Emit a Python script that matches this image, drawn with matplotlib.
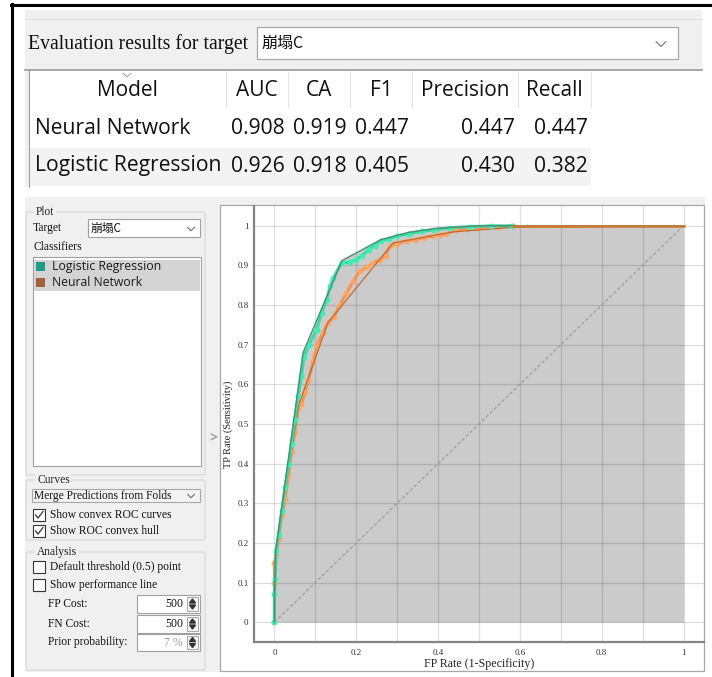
import numpy as np
import matplotlib.pyplot as plt
from matplotlib.patches import Rectangle, FancyBboxPatch

W, H = 712, 677

# evaluation results
target = "崩塌C"
columns = ["Model", "AUC", "CA", "F1", "Precision", "Recall"]
models = ["Neural Network", "Logistic Regression"]
auc = [0.908, 0.926]
ca = [0.919, 0.918]
f1 = [0.447, 0.405]
precision = [0.447, 0.430]
recall = [0.447, 0.382]

classifiers = ["Logistic Regression", "Neural Network"]
classifier_colors = ["#1d9c8c", "#a3603a"]

# ROC curves (FP rate, TP rate)
lr_fpr = [0.0, 0.0, 0.002, 0.004, 0.010, 0.018, 0.026, 0.035, 0.042, 0.050,
          0.058, 0.066, 0.072, 0.085, 0.103, 0.115, 0.128, 0.136, 0.144, 0.164,
          0.185, 0.200, 0.215, 0.230, 0.245, 0.260, 0.280, 0.300, 0.330, 0.360,
          0.390, 0.430, 0.480, 0.530, 0.580]
lr_tpr = [0.0, 0.07, 0.11, 0.18, 0.22, 0.28, 0.34, 0.40, 0.45, 0.51,
          0.57, 0.62, 0.67, 0.70, 0.738, 0.78, 0.814, 0.848, 0.869, 0.907,
          0.908, 0.915, 0.925, 0.940, 0.950, 0.962, 0.967, 0.975, 0.980, 0.986,
          0.990, 0.995, 0.998, 1.0, 1.0]
lr_hull_fpr = [0.0, 0.0, 0.003, 0.070, 0.165, 0.260, 0.330, 0.400, 0.480, 0.530, 1.0]
lr_hull_tpr = [0.0, 0.07, 0.18, 0.680, 0.912, 0.965, 0.984, 0.994, 0.999, 1.0, 1.0]

nn_fpr = [0.0, 0.0, 0.0, 0.004, 0.010, 0.018, 0.026, 0.034, 0.042, 0.050,
          0.058, 0.066, 0.075, 0.083, 0.095, 0.105, 0.118, 0.130, 0.145, 0.160,
          0.176, 0.192, 0.209, 0.225, 0.241, 0.258, 0.272, 0.282, 0.300, 0.323,
          0.345, 0.365, 0.387, 0.405, 0.420, 0.444, 0.470, 0.493, 0.520, 0.550,
          0.582]
nn_tpr = [0.0, 0.10, 0.15, 0.17, 0.21, 0.27, 0.31, 0.37, 0.43, 0.48,
          0.54, 0.55, 0.58, 0.61, 0.66, 0.70, 0.73, 0.755, 0.77, 0.80,
          0.83, 0.86, 0.886, 0.895, 0.907, 0.915, 0.925, 0.949, 0.955, 0.962,
          0.965, 0.970, 0.975, 0.978, 0.980, 0.990, 0.992, 0.995, 0.996, 0.997,
          1.0]
nn_hull_fpr = [0.0, 0.0, 0.018, 0.060, 0.131, 0.290, 0.440, 0.582, 1.0]
nn_hull_tpr = [0.0, 0.15, 0.280, 0.550, 0.756, 0.957, 0.985, 0.996, 1.0]

SERIF = "Liberation Serif"
SANS = "Open Sans"
CJK = ["Noto Sans CJK TC", "DejaVu Sans"]

fig = plt.figure(figsize=(W / 100, H / 100), dpi=100)
ui = fig.add_axes([0, 0, 1, 1])
ui.set_xlim(0, W)
ui.set_ylim(H, 0)
ui.axis("off")


def box(x0, y0, x1, y1, fc="white", ec="#a0a0a0", lw=0.8, z=1):
    ui.add_patch(Rectangle((x0, y0), x1 - x0, y1 - y0, facecolor=fc,
                           edgecolor=ec, linewidth=lw, zorder=z))


def group(x0, y0, x1, y1, title, tx):
    ui.add_patch(FancyBboxPatch((x0, y0), x1 - x0, y1 - y0,
                                boxstyle="round,pad=0,rounding_size=2",
                                facecolor="none", edgecolor="#d6d6d6",
                                linewidth=0.8, zorder=2))
    ui.text(tx, y0, title, fontsize=8.3, family=SERIF, color="#222222",
            va="center", ha="left", zorder=4,
            bbox=dict(boxstyle="square,pad=0.15", fc="#f0f0f0", ec="none"))


def chevron(x, y, w, h, color="#707070", lw=0.8):
    ui.plot([x - w / 2, x, x + w / 2], [y - h / 2, y + h / 2, y - h / 2],
            color=color, lw=lw, zorder=5, solid_capstyle="round")


def checkbox(x, y, checked):
    box(x, y - 6, x + 12, y + 6, fc="white", ec="#333333", lw=0.8, z=3)
    if checked:
        ui.plot([x + 2.5, x + 5, x + 10], [y, y + 3, y - 3.5],
                color="#333333", lw=0.9, zorder=4)


def spinbox(y0, y1, value, color="#111111"):
    box(137, y0, 200, y1, fc="white", ec="#a0a0a0", z=3)
    ui.text(183, (y0 + y1) / 2, value, fontsize=8.5, family=SERIF,
            color=color, ha="right", va="center", zorder=4)
    box(187, y0 + 2, 198, y1 - 2, fc="#f4f4f4", ec="#9a9a9a", lw=0.6, z=4)
    ym = (y0 + y1) / 2
    ui.fill([189.5, 195.5, 192.5], [ym - 1, ym - 1, ym - 5], color="#333333", zorder=5)
    ui.fill([189.5, 195.5, 192.5], [ym + 1, ym + 1, ym + 5], color="#333333", zorder=5)


# outer frame
ui.plot([12, 12], [4, H], color="black", lw=2.2, zorder=6)
ui.plot([11, 711], [4.5, 4.5], color="black", lw=2.2, zorder=6)

# ---- results panel ----
box(25, 10, 702, 70, fc="#f0f0f0", ec="none", z=0)
ui.plot([25, 702], [19, 19], color="#e0e0e0", lw=0.8, zorder=1)
box(25, 70, 29, 187, fc="#f0f0f0", ec="none", z=0)
ui.plot([25, 702], [70, 70], color="#a8a8a8", lw=1.4, zorder=2)
ui.plot([29, 29], [70, 187], color="#a0a0a0", lw=0.8, zorder=2)

ui.text(28, 44, "Evaluation results for target", fontsize=14.2, family=SERIF,
        color="#111111", va="center", ha="left")
box(257, 27, 678, 59, fc="white", ec="#a8a8a8", lw=0.9)
ui.text(262, 43, target, fontsize=11.5, family=CJK, color="#111111",
        va="center", ha="left")
chevron(661, 44, 10, 5)

col_edges = [29, 226, 288, 350, 412, 518, 591]
for xe in col_edges[1:]:
    ui.plot([xe, xe], [72, 107], color="#e4e4e4", lw=0.8, zorder=2)
box(30, 148, 591, 186, fc="#f3f3f3", ec="none", z=0)
chevron(127, 75, 8, 3.5, color="#9a9a9a", lw=0.7)

for i, name in enumerate(columns):
    xc = (col_edges[i] + col_edges[i + 1]) / 2
    ui.text(xc, 90, name, fontsize=15, family=SANS, color="#111111",
            ha="center", va="center")

rows = list(zip(auc, ca, f1, precision, recall))
for r, (name, vals) in enumerate(zip(models, rows)):
    y = 128 + 38 * r
    ui.text(35, y, name, fontsize=15.2, family=SANS, color="#111111",
            ha="left", va="center")
    for c, v in enumerate(vals):
        ui.text(col_edges[c + 2] - 3, y, f"{v:.3f}", fontsize=15.2, family=SANS,
                color="#111111", ha="right", va="center")

# ---- ROC widget ----
box(25, 197, 705, 672, fc="#f0f0f0", ec="none", z=0)

group(26, 212, 205, 475, "Plot", 36)
ui.text(33, 228, "Target", fontsize=8.3, family=SERIF, color="#111111", va="center")
box(88, 219, 200, 237, fc="white", ec="#a0a0a0")
ui.text(91, 228, target, fontsize=8.5, family=CJK, color="#111111", va="center")
chevron(191, 229, 7, 3.5)
ui.text(33, 247, "Classifiers", fontsize=8.3, family=SERIF, color="#111111", va="center")
box(33, 257, 201, 466, fc="white", ec="#a0a0a0")
box(34, 259.5, 200, 290.5, fc="#d4d4d4", ec="none", z=2)
for k, (name, col) in enumerate(zip(classifiers, classifier_colors)):
    yc = 266.5 + 16 * k
    box(36, yc - 4.5, 45, yc + 4.5, fc=col, ec="none", z=3)
    ui.text(52, yc, name, fontsize=8.8, family=SANS, color="#1a1a1a",
            va="center", ha="left", zorder=3)

ui.text(213, 437, ">", fontsize=10, family=SANS, color="#a0a0a0",
        va="center", ha="center", weight="bold")

group(26, 480, 205, 540, "Curves", 37)
box(32, 489, 200, 502, fc="#f3f3f3", ec="#a8a8a8", z=3)
ui.text(34, 495.5, "Merge Predictions from Folds", fontsize=8.3, family=SERIF,
        color="#111111", va="center", zorder=4)
chevron(191, 496, 7, 3.5)
checkbox(33, 515, True)
ui.text(50, 515, "Show convex ROC curves", fontsize=8.3, family=SERIF,
        color="#111111", va="center")
checkbox(33, 531, True)
ui.text(50, 531, "Show ROC convex hull", fontsize=8.3, family=SERIF,
        color="#111111", va="center")

group(26, 552, 205, 670, "Analysis", 37)
checkbox(33, 567, False)
ui.text(50, 567, "Default threshold (0.5) point", fontsize=8.3, family=SERIF,
        color="#111111", va="center")
checkbox(33, 585, False)
ui.text(50, 585, "Show performance line", fontsize=8.3, family=SERIF,
        color="#111111", va="center")
ui.text(48, 604, "FP Cost:", fontsize=8.3, family=SERIF, color="#111111", va="center")
spinbox(595, 613, "500")
ui.text(48, 624, "FN Cost:", fontsize=8.3, family=SERIF, color="#111111", va="center")
spinbox(615, 633, "500")
ui.text(48, 642, "Prior probability:", fontsize=8.3, family=SERIF, color="#111111", va="center")
spinbox(634, 651, "7 %", color="#9a9a9a")

# plot frame
box(220, 205, 704, 671, fc="white", ec="#a8a8a8", lw=0.9, z=1)

ax = fig.add_axes([254 / W, 1 - 642 / H, 450 / W, 436 / H])
ax.set_facecolor("none")
ax.set_xlim(-0.05, 1.05)
ax.set_ylim(-0.05, 1.05)
for s in ["top", "right"]:
    ax.spines[s].set_visible(False)
for s in ["left", "bottom"]:
    ax.spines[s].set_color("#858585")
    ax.spines[s].set_linewidth(1.6)
ax.set_xticks(np.arange(0, 1.01, 0.2))
ax.set_xticks(np.arange(0.1, 1.0, 0.2), minor=True)
ax.set_xticklabels(["0", "0.2", "0.4", "0.6", "0.8", "1"])
ax.set_yticks(np.arange(0, 1.01, 0.1))
ax.set_yticklabels(["0"] + [f"{v:.1f}" for v in np.arange(0.1, 0.95, 0.1)] + ["1"])
ax.tick_params(which="both", length=0, labelsize=6.5, labelcolor="#333333")
ax.tick_params(axis="x", pad=5)
ax.tick_params(axis="y", pad=4)
for lab in ax.get_xticklabels() + ax.get_yticklabels():
    lab.set_family(SERIF)
ax.set_axisbelow("line")
ax.grid(True, which="both", color="black", alpha=0.13, lw=0.9)

ax.fill_between(lr_hull_fpr, lr_hull_tpr, 0, color="#cbcbcb", lw=0, zorder=1)
ax.plot([0, 1], [0, 1], color="#999999", lw=0.8, ls=(0, (3, 2)), zorder=2)

ax.plot(nn_fpr, nn_tpr, color="#f4924a", lw=2.2, marker="o", ms=3.2,
        mfc="#ffa565", mec="#ffa565", alpha=0.95, zorder=3)
ax.plot(nn_hull_fpr, nn_hull_tpr, color="#c06a30", lw=0.9, zorder=4)
ax.plot(lr_fpr, lr_tpr, color="#2fe0a2", lw=2.2, marker="o", ms=3.2,
        mfc="#3cf0b0", mec="#3cf0b0", alpha=0.95, zorder=5)
ax.plot(lr_hull_fpr, lr_hull_tpr, color="#4f8f7c", lw=1.1, zorder=6)
ax.plot(nn_fpr[-1:] + [1.0], nn_tpr[-1:] + [1.0], color="#d07a32", lw=1.8, zorder=6)

fig.text(479 / W, 1 - 664 / H, "FP Rate (1-Specificity)", fontsize=8.6,
         family=SERIF, color="#222222", ha="center", va="center")
fig.text(228 / W, 1 - 424 / H, "TP Rate (Sensitivity)", fontsize=7.5,
         family=SERIF, color="#222222", ha="center", va="center", rotation=90)

fig.savefig("out.png", dpi=100)
